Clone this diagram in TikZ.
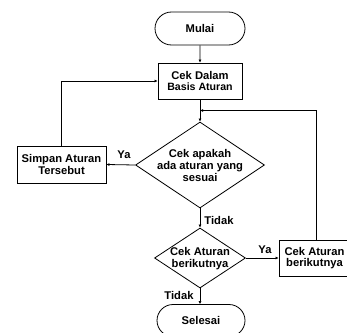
\documentclass[tikz,border=0pt]{standalone}
\usepackage{fontspec}
\setmainfont{Liberation Sans}
\usetikzlibrary{shapes.geometric,shapes.misc,arrows.meta,calc}
\begin{document}
\begin{tikzpicture}[x=1pt,y=-1pt,
  every node/.style={font=\fontsize{11.2}{11.6}\selectfont\bfseries, align=center},
  shp/.style={draw, line width=0.8pt, inner sep=0pt},
  term/.style={shp, rounded rectangle, minimum width=90pt, minimum height=33pt},
  proc/.style={shp, rectangle},
  dia/.style={shp, diamond},
  lbl/.style={inner sep=0pt},
  conn/.style={line width=0.8pt, -{Latex[length=3pt,width=3pt]}},
  plain/.style={line width=0.8pt}]
\useasboundingbox (0,0) rectangle (347,332);
\node[term] (mulai) at (200,28.5) {Mulai};
\node[proc, minimum width=84pt, minimum height=36pt] (cek) at (200,81) {Cek Dalam\\{\fontsize{10.6}{11.6}\selectfont Basis Aturan}};
\node[dia, minimum width=129pt, minimum height=86pt] (d1) at (200,165) {};
\node[lbl] (d1t) at (200,165.5) {Cek apakah\\ada aturan yang\\sesuai};
\node[proc, minimum width=89pt, minimum height=37pt] (simpan) at (61.5,164.5) {Simpan Aturan\\Tersebut};
\node[dia, minimum width=91pt, minimum height=60pt] (d2) at (200,258) {};
\node[lbl] (d2t) at (200,258.5) {Cek Aturan\\berikutnya};
\node[proc, minimum width=71pt, minimum height=36pt] (next) at (314.5,258) {Cek Aturan\\berikutnya};
\node[term, minimum width=88pt, minimum height=32pt] (selesai) at (201,320.5) {Selesai};
\coordinate (m) at (200,110.5);
\draw[conn] (mulai) -- (cek);
\draw[conn] (cek) -- (d1);
\draw[conn] (d1.west) -- (simpan.east);
\draw[conn] (simpan.north) |- (cek.west);
\draw[conn] (d1.south) -- (d2.north);
\draw[conn] (d2.east) -- (next.west);
\draw[conn] (next.north -| 316,0) |- (m);
\draw[conn] (d2.south) -- (d2.south |- selesai.north);
\node[lbl] (ya1) at (124,154.5) {Ya};
\node[lbl] (tidak1) at (219,220) {Tidak};
\node[lbl] (ya2) at (265,250) {Ya};
\node[lbl] (tidak2) at (179,295) {Tidak};
\end{tikzpicture}
\end{document}
